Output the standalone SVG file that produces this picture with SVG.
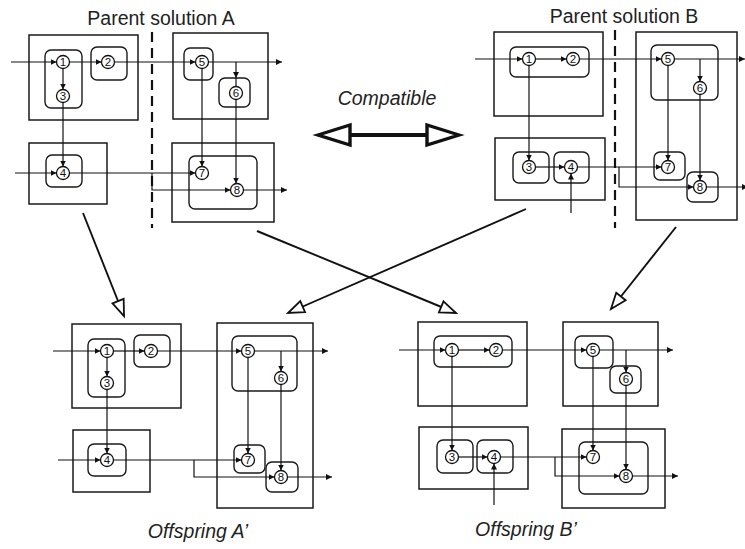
<svg xmlns="http://www.w3.org/2000/svg" width="745" height="549" viewBox="0 0 745 549">
  <defs>
    <style>
      .box { fill: none; stroke: #1a1a1a; stroke-width: 1.5; }
      .rbox { fill: none; stroke: #1a1a1a; stroke-width: 1.4; }
      .wire { fill: none; stroke: #111; stroke-width: 1.2; }
      .flow { fill: none; stroke: #111; stroke-width: 1.9; }
      .dash { fill: none; stroke: #111; stroke-width: 2.2; stroke-dasharray: 10 6; }
      .node circle { fill: #fff; stroke: #111; stroke-width: 1.3; }
      .node text { font-family: "Liberation Sans", Arial, sans-serif; font-size: 11.5px; fill: #111; text-anchor: middle; }
      .title { font-family: "Liberation Sans", Arial, sans-serif; font-size: 19.5px; fill: #222; text-anchor: middle; }
      .ital { font-family: "Liberation Sans", Arial, sans-serif; font-size: 19.5px; font-style: italic; fill: #222; text-anchor: middle; }
    </style>
    <marker id="tip" viewBox="0 0 6 6" refX="6" refY="3" markerWidth="6" markerHeight="6" markerUnits="userSpaceOnUse" orient="auto">
      <path d="M0,0 L6,3 L0,6 z" fill="#111"/>
    </marker>
    <marker id="open" viewBox="-2 -2 20 16" refX="16" refY="6" markerWidth="20" markerHeight="16" markerUnits="userSpaceOnUse" orient="auto" overflow="visible">
      <path d="M0,0 L16,6 L0,12 z" fill="#fff" stroke="#111" stroke-width="1.8" stroke-linejoin="miter"/>
    </marker>
  </defs>

  <rect width="745" height="549" fill="#fff"/>

  <!-- titles -->
  <text class="title" x="161" y="25">Parent solution A</text>
  <text class="title" x="624" y="23">Parent solution B</text>
  <text class="ital" x="387" y="105">Compatible</text>
  <text class="ital" x="198" y="538">Offspring A’</text>
  <text class="ital" x="526" y="536">Offspring B’</text>

  <!-- partition lines -->
  <line class="dash" x1="152" y1="32" x2="152" y2="228"/>
  <line class="dash" x1="615" y1="30" x2="615" y2="228"/>

  <!-- compatibility double arrow -->
  <g id="compatible">
    <line x1="348" y1="135" x2="429" y2="135" stroke="#111" stroke-width="4"/>
    <polygon points="318,135 350,125 350,145" fill="#fff" stroke="#111" stroke-width="3.4" stroke-linejoin="miter"/>
    <polygon points="459,135 427,125 427,145" fill="#fff" stroke="#111" stroke-width="3.4" stroke-linejoin="miter"/>
  </g>

  <!-- containers: processors (square) and task groups (rounded) -->
  <g id="containers">
    <!-- parent A -->
    <rect class="box" x="29" y="35" width="109" height="85"/>
    <rect class="box" x="173" y="33" width="95" height="86"/>
    <rect class="box" x="29" y="143" width="78" height="61"/>
    <rect class="box" x="172" y="143" width="102" height="79"/>
    <rect class="rbox" x="45" y="50" width="37" height="58" rx="6"/>
    <rect class="rbox" x="91" y="47" width="36" height="33" rx="6"/>
    <rect class="rbox" x="184" y="48" width="29" height="32" rx="6"/>
    <rect class="rbox" x="219" y="78" width="31" height="29" rx="6"/>
    <rect class="rbox" x="46" y="155" width="36" height="32" rx="6"/>
    <rect class="rbox" x="189" y="156" width="68" height="53" rx="6"/>
    <!-- parent B -->
    <rect class="box" x="494" y="32" width="109" height="84"/>
    <rect class="box" x="636" y="32" width="101" height="188"/>
    <rect class="box" x="495" y="138" width="110" height="62"/>
    <rect class="rbox" x="510" y="47" width="79" height="30" rx="6"/>
    <rect class="rbox" x="651" y="45" width="67" height="55" rx="6"/>
    <rect class="rbox" x="513" y="152" width="36" height="31" rx="6"/>
    <rect class="rbox" x="554" y="152" width="35" height="31" rx="6"/>
    <rect class="rbox" x="654" y="152" width="31" height="28" rx="6"/>
    <rect class="rbox" x="687" y="172" width="31" height="30" rx="6"/>
    <!-- offspring A' -->
    <rect class="box" x="72" y="324" width="109" height="84"/>
    <rect class="box" x="217" y="323" width="96" height="185"/>
    <rect class="box" x="73" y="430" width="77" height="62"/>
    <rect class="rbox" x="88" y="339" width="37" height="58" rx="6"/>
    <rect class="rbox" x="134" y="335" width="36" height="32" rx="6"/>
    <rect class="rbox" x="232" y="336" width="65" height="55" rx="6"/>
    <rect class="rbox" x="88" y="444" width="38" height="32" rx="6"/>
    <rect class="rbox" x="234" y="445" width="31" height="28" rx="6"/>
    <rect class="rbox" x="266" y="462" width="32" height="30" rx="6"/>
    <!-- offspring B' -->
    <rect class="box" x="418" y="322" width="109" height="84"/>
    <rect class="box" x="563" y="322" width="95" height="84"/>
    <rect class="box" x="419" y="427" width="109" height="62"/>
    <rect class="box" x="562" y="429" width="103" height="79"/>
    <rect class="rbox" x="434" y="336" width="78" height="31" rx="6"/>
    <rect class="rbox" x="575" y="336" width="38" height="32" rx="6"/>
    <rect class="rbox" x="610" y="366" width="31" height="27" rx="6"/>
    <rect class="rbox" x="437" y="440" width="36" height="33" rx="6"/>
    <rect class="rbox" x="477" y="440" width="36" height="33" rx="6"/>
    <rect class="rbox" x="579" y="442" width="69" height="52" rx="6"/>
  </g>

  <!-- connectors -->
  <g id="connectors">
    <!-- parent A -->
    <path class="wire" d="M11,62 H56.5" marker-end="url(#tip)"/>
    <path class="wire" d="M69.5,62 H101.5" marker-end="url(#tip)"/>
    <path class="wire" d="M63,68.5 V89.5" marker-end="url(#tip)"/>
    <path class="wire" d="M114.5,62 H195.5" marker-end="url(#tip)"/>
    <path class="wire" d="M208.5,62 H282" marker-end="url(#tip)"/>
    <path class="wire" d="M236,62 V78" marker-end="url(#tip)"/>
    <path class="wire" d="M236,78 V86.5"/>
    <path class="wire" d="M63,102.5 V166.5" marker-end="url(#tip)"/>
    <path class="wire" d="M15,173 H56.5" marker-end="url(#tip)"/>
    <path class="wire" d="M69.5,173 H195.5" marker-end="url(#tip)"/>
    <path class="wire" d="M152,173 V190 H230.5" marker-end="url(#tip)"/>
    <path class="wire" d="M202,68.5 V166.5" marker-end="url(#tip)"/>
    <path class="wire" d="M236,99.5 V183.5" marker-end="url(#tip)"/>
    <path class="wire" d="M242.5,190 H287" marker-end="url(#tip)"/>
    <!-- parent B -->
    <path class="wire" d="M475,59 H522.5" marker-end="url(#tip)"/>
    <path class="wire" d="M535.5,59 H566.5" marker-end="url(#tip)"/>
    <path class="wire" d="M579.5,59 H661.5" marker-end="url(#tip)"/>
    <path class="wire" d="M674.5,59 H745" marker-end="url(#tip)"/>
    <path class="wire" d="M700,59 V81.5" marker-end="url(#tip)"/>
    <path class="wire" d="M529,65.5 V160.5" marker-end="url(#tip)"/>
    <path class="wire" d="M535.5,167 H564.5" marker-end="url(#tip)"/>
    <path class="wire" d="M571,213 V173.5" marker-end="url(#tip)"/>
    <path class="wire" d="M577.5,167 H661.5" marker-end="url(#tip)"/>
    <path class="wire" d="M619,167 V187 H693.5" marker-end="url(#tip)"/>
    <path class="wire" d="M668,65.5 V160.5" marker-end="url(#tip)"/>
    <path class="wire" d="M700,94.5 V180.5" marker-end="url(#tip)"/>
    <path class="wire" d="M706.5,187 H748" marker-end="url(#tip)"/>
    <!-- offspring A' -->
    <path class="wire" d="M53,351 H100.5" marker-end="url(#tip)"/>
    <path class="wire" d="M113.5,351 H144.5" marker-end="url(#tip)"/>
    <path class="wire" d="M107,357.5 V376.5" marker-end="url(#tip)"/>
    <path class="wire" d="M157.5,351 H241.5" marker-end="url(#tip)"/>
    <path class="wire" d="M254.5,351 H328" marker-end="url(#tip)"/>
    <path class="wire" d="M281,351 V371.5" marker-end="url(#tip)"/>
    <path class="wire" d="M107,389.5 V453.5" marker-end="url(#tip)"/>
    <path class="wire" d="M58,460 H100.5" marker-end="url(#tip)"/>
    <path class="wire" d="M113.5,460 H241.5" marker-end="url(#tip)"/>
    <path class="wire" d="M194,460 V477 H274.5" marker-end="url(#tip)"/>
    <path class="wire" d="M248,357.5 V453.5" marker-end="url(#tip)"/>
    <path class="wire" d="M281,384.5 V470.5" marker-end="url(#tip)"/>
    <path class="wire" d="M287.5,477 H332" marker-end="url(#tip)"/>
    <!-- offspring B' -->
    <path class="wire" d="M399,350 H445.5" marker-end="url(#tip)"/>
    <path class="wire" d="M458.5,350 H489.5" marker-end="url(#tip)"/>
    <path class="wire" d="M502.5,350 H586.5" marker-end="url(#tip)"/>
    <path class="wire" d="M599.5,350 H673" marker-end="url(#tip)"/>
    <path class="wire" d="M626,350 V372.5" marker-end="url(#tip)"/>
    <path class="wire" d="M452,356.5 V450.5" marker-end="url(#tip)"/>
    <path class="wire" d="M458.5,457 H487.5" marker-end="url(#tip)"/>
    <path class="wire" d="M494,505 V463.5" marker-end="url(#tip)"/>
    <path class="wire" d="M500.5,457 H586.5" marker-end="url(#tip)"/>
    <path class="wire" d="M555,457 V476 H619.5" marker-end="url(#tip)"/>
    <path class="wire" d="M593,356.5 V450.5" marker-end="url(#tip)"/>
    <path class="wire" d="M626,385.5 V469.5" marker-end="url(#tip)"/>
    <path class="wire" d="M632.5,476 H678" marker-end="url(#tip)"/>
    <!-- crossover flows -->
    <path class="flow" d="M83,213 L124,316" marker-end="url(#open)"/>
    <path class="flow" d="M257,231 L456,313" marker-end="url(#open)"/>
    <path class="flow" d="M526,209 L288,313" marker-end="url(#open)"/>
    <path class="flow" d="M676,227 L611,309" marker-end="url(#open)"/>
  </g>

  <!-- tasks -->
  <g id="pA-1" class="node"><circle cx="63" cy="62" r="6.5"/><text x="63" y="66">1</text></g>
  <g id="pA-2" class="node"><circle cx="108" cy="62" r="6.5"/><text x="108" y="66">2</text></g>
  <g id="pA-3" class="node"><circle cx="63" cy="96" r="6.5"/><text x="63" y="100">3</text></g>
  <g id="pA-4" class="node"><circle cx="63" cy="173" r="6.5"/><text x="63" y="177">4</text></g>
  <g id="pA-5" class="node"><circle cx="202" cy="62" r="6.5"/><text x="202" y="66">5</text></g>
  <g id="pA-6" class="node"><circle cx="236" cy="93" r="6.5"/><text x="236" y="97">6</text></g>
  <g id="pA-7" class="node"><circle cx="202" cy="173" r="6.5"/><text x="202" y="177">7</text></g>
  <g id="pA-8" class="node"><circle cx="237" cy="190" r="6.5"/><text x="237" y="194">8</text></g>

  <g id="pB-1" class="node"><circle cx="529" cy="59" r="6.5"/><text x="529" y="63">1</text></g>
  <g id="pB-2" class="node"><circle cx="573" cy="59" r="6.5"/><text x="573" y="63">2</text></g>
  <g id="pB-3" class="node"><circle cx="529" cy="167" r="6.5"/><text x="529" y="171">3</text></g>
  <g id="pB-4" class="node"><circle cx="571" cy="167" r="6.5"/><text x="571" y="171">4</text></g>
  <g id="pB-5" class="node"><circle cx="668" cy="59" r="6.5"/><text x="668" y="63">5</text></g>
  <g id="pB-6" class="node"><circle cx="700" cy="88" r="6.5"/><text x="700" y="92">6</text></g>
  <g id="pB-7" class="node"><circle cx="668" cy="167" r="6.5"/><text x="668" y="171">7</text></g>
  <g id="pB-8" class="node"><circle cx="700" cy="187" r="6.5"/><text x="700" y="191">8</text></g>

  <g id="oA-1" class="node"><circle cx="107" cy="351" r="6.5"/><text x="107" y="355">1</text></g>
  <g id="oA-2" class="node"><circle cx="151" cy="351" r="6.5"/><text x="151" y="355">2</text></g>
  <g id="oA-3" class="node"><circle cx="107" cy="383" r="6.5"/><text x="107" y="387">3</text></g>
  <g id="oA-4" class="node"><circle cx="107" cy="460" r="6.5"/><text x="107" y="464">4</text></g>
  <g id="oA-5" class="node"><circle cx="248" cy="351" r="6.5"/><text x="248" y="355">5</text></g>
  <g id="oA-6" class="node"><circle cx="281" cy="378" r="6.5"/><text x="281" y="382">6</text></g>
  <g id="oA-7" class="node"><circle cx="248" cy="460" r="6.5"/><text x="248" y="464">7</text></g>
  <g id="oA-8" class="node"><circle cx="281" cy="477" r="6.5"/><text x="281" y="481">8</text></g>

  <g id="oB-1" class="node"><circle cx="452" cy="350" r="6.5"/><text x="452" y="354">1</text></g>
  <g id="oB-2" class="node"><circle cx="496" cy="350" r="6.5"/><text x="496" y="354">2</text></g>
  <g id="oB-3" class="node"><circle cx="452" cy="457" r="6.5"/><text x="452" y="461">3</text></g>
  <g id="oB-4" class="node"><circle cx="494" cy="457" r="6.5"/><text x="494" y="461">4</text></g>
  <g id="oB-5" class="node"><circle cx="593" cy="350" r="6.5"/><text x="593" y="354">5</text></g>
  <g id="oB-6" class="node"><circle cx="626" cy="379" r="6.5"/><text x="626" y="383">6</text></g>
  <g id="oB-7" class="node"><circle cx="593" cy="457" r="6.5"/><text x="593" y="461">7</text></g>
  <g id="oB-8" class="node"><circle cx="626" cy="476" r="6.5"/><text x="626" y="480">8</text></g>
</svg>
